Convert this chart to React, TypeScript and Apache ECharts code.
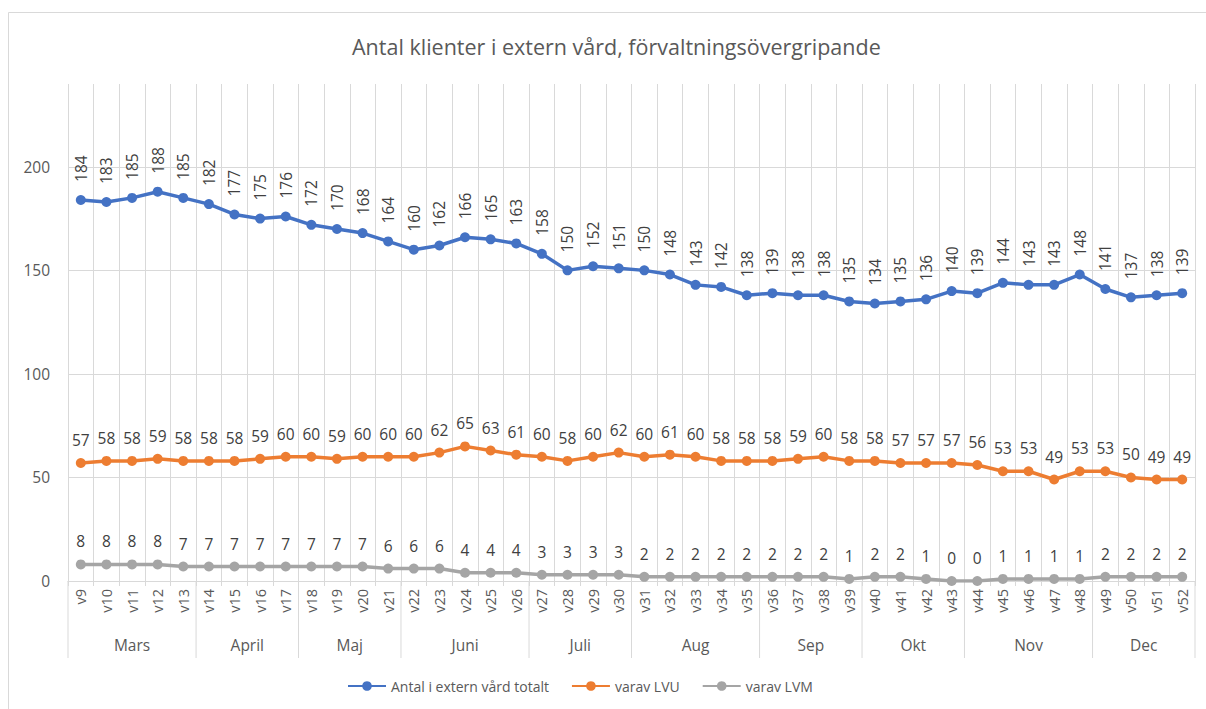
import React, { useEffect, useRef } from "react";
import * as echarts from "echarts";

const weeks = [
  "v9","v10","v11","v12","v13","v14","v15","v16","v17","v18","v19","v20","v21","v22","v23",
  "v24","v25","v26","v27","v28","v29","v30","v31","v32","v33","v34","v35","v36","v37","v38",
  "v39","v40","v41","v42","v43","v44","v45","v46","v47","v48","v49","v50","v51","v52",
];
const months = ["Mars","April","Maj","Juni","Juli","Aug","Sep","Okt","Nov","Dec"];
const monthWeekCounts = [5, 4, 4, 5, 4, 5, 4, 4, 5, 4];

const total = [
  184,183,185,188,185,182,177,175,176,172,170,168,164,160,162,166,165,163,158,150,152,151,
  150,148,143,142,138,139,138,138,135,134,135,136,140,139,144,143,143,148,141,137,138,139,
];
const lvu = [
  57,58,58,59,58,58,58,59,60,60,59,60,60,60,62,65,63,61,60,58,60,62,
  60,61,60,58,58,58,59,60,58,58,57,57,57,56,53,53,49,53,53,50,49,49,
];
const lvm = [
  8,8,8,8,7,7,7,7,7,7,7,7,6,6,6,4,4,4,3,3,3,3,
  2,2,2,2,2,2,2,2,1,2,2,1,0,0,1,1,1,1,2,2,2,2,
];

const seriesNames = ["Antal i extern vård totalt", "varav LVU", "varav LVM"];
const colors = ["#4472C4", "#ED7D31", "#A5A5A5"];
const yTicks = [0, 50, 100, 150, 200];

const FONT = "'Open Sans', 'Noto Sans', sans-serif";
const TXT = "#595959";
const GRID = "#d9d9d9";

export default function App() {
  const ref = useRef<HTMLDivElement>(null);
  useEffect(() => {
    if (!ref.current) return;
    const chart = echarts.init(ref.current, null, { renderer: "svg" });
    const mkSeries = (name: string, data: number[], color: string, rotated: boolean, dist: number) => ({
      name,
      type: "line",
      data,
      symbol: "circle",
      symbolSize: 10,
      color,
      lineStyle: { width: 3.5, color },
      itemStyle: { color },
      label: rotated
        ? {
            show: true,
            position: "top",
            distance: dist,
            rotate: 90,
            align: "left",
            verticalAlign: "middle",
            color: "#404040",
            fontSize: 15.5,
            fontFamily: FONT,
          }
        : {
            show: true,
            position: "top",
            distance: dist,
            color: "#404040",
            fontSize: 15.5,
            fontFamily: FONT,
          },
    });
    chart.setOption({
      animation: false,
      textStyle: { fontFamily: FONT },
      title: {
        text: "Antal klienter i extern vård, förvaltningsövergripande",
        left: 347,
        top: 30,
        textStyle: { fontSize: 21.5, fontWeight: "normal", color: TXT, fontFamily: FONT },
      },
      legend: {
        bottom: 11,
        left: 342,
        itemWidth: 38,
        itemHeight: 12,
        itemGap: 22,
        textStyle: { color: TXT, fontSize: 14, fontFamily: FONT },
        data: seriesNames,
      },
      grid: { left: 68, right: 11, top: 84, bottom: 128, containLabel: false },
      xAxis: {
        type: "category",
        data: weeks,
        boundaryGap: true,
        axisLine: { lineStyle: { color: GRID, width: 1 } },
        axisTick: { show: true, length: 5, interval: 0, lineStyle: { color: GRID } },
        axisLabel: { interval: 0, rotate: 90, margin: 8, fontSize: 14.5, color: TXT, fontFamily: FONT },
        splitLine: { show: true, interval: 0, lineStyle: { color: GRID, width: 1 } },
      },
      yAxis: {
        type: "value",
        min: 0,
        max: 240,
        interval: 50,
        axisLine: { show: false },
        axisTick: { show: false },
        axisLabel: {
          margin: 18,
          fontSize: 15.5,
          color: TXT,
          fontFamily: FONT,
          formatter: (v: number) => (yTicks.indexOf(v) >= 0 ? String(v) : ""),
        },
        splitLine: { show: true, showMaxLine: false, lineStyle: { color: GRID, width: 1 } },
      },
      series: [
        mkSeries(seriesNames[0], total, colors[0], true, 13),
        mkSeries(seriesNames[1], lvu, colors[1], false, 10),
        mkSeries(seriesNames[2], lvm, colors[2], false, 10),
      ],
    });

    const c0 = chart.convertToPixel({ xAxisIndex: 0 }, weeks[0]) as number;
    const c1 = chart.convertToPixel({ xAxisIndex: 0 }, weeks[1]) as number;
    const bw = c1 - c0;
    const y0 = chart.convertToPixel({ yAxisIndex: 0 }, 0) as number;
    const graphics: any[] = [
      {
        type: "rect",
        silent: true,
        z: -10,
        shape: { x: 8.5, y: 12.5, width: 1300, height: 800 },
        style: { fill: "none", stroke: GRID, lineWidth: 1 },
      },
    ];
    let start = 0;
    const leftEdge = c0 - bw / 2;
    graphics.push({
      type: "line",
      silent: true,
      shape: { x1: leftEdge, y1: y0, x2: leftEdge, y2: y0 + 77 },
      style: { stroke: GRID, lineWidth: 1 },
    });
    months.forEach((m, i) => {
      const n = monthWeekCounts[i];
      const first = chart.convertToPixel({ xAxisIndex: 0 }, weeks[start]) as number;
      const last = chart.convertToPixel({ xAxisIndex: 0 }, weeks[start + n - 1]) as number;
      const rightB = last + bw / 2;
      graphics.push({
        type: "line",
        silent: true,
        shape: { x1: rightB, y1: y0, x2: rightB, y2: y0 + 77 },
        style: { stroke: GRID, lineWidth: 1 },
      });
      graphics.push({
        type: "text",
        silent: true,
        x: (first + last) / 2,
        y: y0 + 64,
        style: {
          text: m,
          fill: TXT,
          fontSize: 15.5,
          fontFamily: FONT,
          align: "center",
          verticalAlign: "middle",
        },
      });
      start += n;
    });
    chart.setOption({ graphic: graphics });
    return () => chart.dispose();
  }, []);
  return (
    <div
      ref={ref}
      style={{ position: "fixed", left: 0, top: 0, width: 1206, height: 709, background: "#fff" }}
    />
  );
}
